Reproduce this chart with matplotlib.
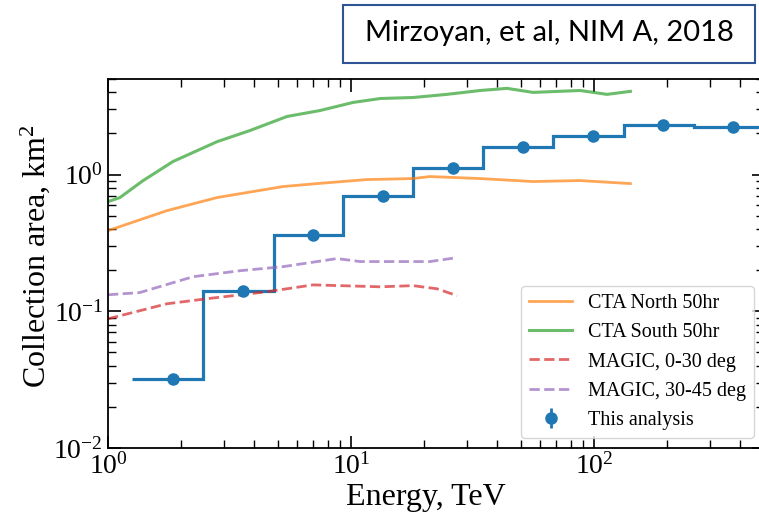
"""Collection area vs energy: CTA and MAGIC reference curves with the binned analysis result."""

import matplotlib

matplotlib.use("Agg")

import matplotlib.pyplot as plt
from matplotlib.patches import Rectangle

# CTA North 50 hr
cta_north_e = [1.0, 1.75, 2.81, 5.25, 7.24, 11.6, 18.0, 21.1, 34.0, 56.1, 87.6, 141.0]
cta_north_a = [0.389, 0.545, 0.679, 0.817, 0.859, 0.919, 0.935, 0.967, 0.935, 0.889, 0.904, 0.859]

# CTA South 50 hr
cta_south_e = [1.0, 1.12, 1.39, 1.85, 2.81, 3.84, 5.45, 7.45, 10.2, 13.2, 18.0, 24.8,
               34.0, 43.8, 56.1, 87.6, 113.0, 141.0]
cta_south_a = [0.634, 0.679, 0.90, 1.245, 1.74, 2.10, 2.66, 2.94, 3.37, 3.60, 3.66, 3.86,
               4.12, 4.27, 3.99, 4.12, 3.86, 4.06]

# MAGIC, zenith 0-30 deg
magic_low_e = [1.0, 1.75, 2.55, 4.51, 6.98, 13.2, 18.0, 22.6, 27.3]
magic_low_a = [0.0881, 0.1135, 0.1235, 0.139, 0.156, 0.151, 0.154, 0.146, 0.130]

# MAGIC, zenith 30-45 deg
magic_high_e = [1.0, 1.35, 2.24, 3.49, 5.25, 8.76, 10.9, 13.2, 21.1, 27.3]
magic_high_a = [0.132, 0.137, 0.179, 0.198, 0.212, 0.243, 0.231, 0.231, 0.231, 0.247]

# This analysis: energy bin edges (TeV), point energies and collection area per bin (km^2)
bin_edges = [1.25, 2.45, 4.8, 9.3, 18.0, 35.0, 68.0, 133.0, 258.0, 500.0]
point_e = [1.85, 3.59, 6.98, 13.5, 26.3, 51.0, 99.0, 192.0, 373.0]
area = [0.0320, 0.141, 0.363, 0.702, 1.125, 1.58, 1.93, 2.32, 2.21]
area_err = [0.001, 0.004, 0.008, 0.012, 0.018, 0.025, 0.03, 0.035, 0.035]

plt.rcParams["font.family"] = ["Liberation Serif", "DejaVu Serif"]
plt.rcParams["mathtext.fontset"] = "custom"
plt.rcParams["mathtext.rm"] = "Liberation Serif"
plt.rcParams["mathtext.it"] = "Liberation Serif:italic"
plt.rcParams["axes.unicode_minus"] = False

fig = plt.figure(figsize=(7.59, 5.16), dpi=100)
ax = fig.add_axes([0.1423, 0.1318, 0.8643, 0.7151])

ax.plot(cta_north_e, cta_north_a, color="tab:orange", alpha=0.7, lw=2.0, label="CTA North 50hr")
ax.plot(cta_south_e, cta_south_a, color="tab:green", alpha=0.7, lw=2.2, label="CTA South 50hr")
ax.plot(magic_low_e, magic_low_a, color="tab:red", alpha=0.7, lw=2.0, ls="--", label="MAGIC, 0-30 deg")
ax.plot(magic_high_e, magic_high_a, color="tab:purple", alpha=0.7, lw=2.0, ls="--", label="MAGIC, 30-45 deg")

ax.stairs(area, bin_edges, baseline=None, color="tab:blue", lw=2.3)
ax.errorbar(point_e, area, yerr=area_err, fmt="o", color="tab:blue", ms=8, lw=2,
            label="This analysis")

ax.set_xscale("log")
ax.set_yscale("log")
ax.set_xlim(1, 500)
ax.set_ylim(0.01, 5)

ax.set_xlabel("Energy, TeV", fontsize=23, va="top")
ax.xaxis.set_label_coords(0.485, -0.095)
ax.set_ylabel("Collection area, km$^2$", fontsize=23, va="center")
ax.yaxis.set_label_coords(-0.111, 0.52)

ax.tick_params(which="both", direction="in", top=True, right=True, labelsize=20, colors="black")
ax.tick_params(which="major", length=9, width=1.2)
ax.tick_params(which="minor", length=5.5, width=1.0)
for spine in ax.spines.values():
    spine.set_linewidth(1.3)

ax.legend(loc="lower right", fontsize=14.5, handlelength=2.1)

# citation box above the axes
fig.patches.append(Rectangle((0.4519, 0.8779), 0.5428, 0.1124, transform=fig.transFigure,
                             facecolor="white", edgecolor="#2F5496", lw=1.5))
fig.text(0.7233, 0.936, "Mirzoyan, et al, NIM A, 2018", ha="center", va="center",
         fontsize=21, family=["Lato", "DejaVu Sans"])

fig.savefig("out.png", dpi=100)
